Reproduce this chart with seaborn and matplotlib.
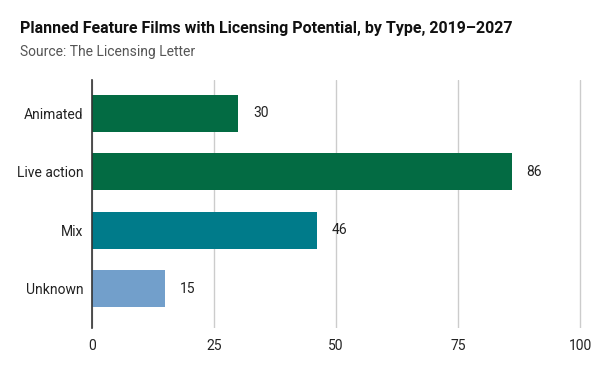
import pandas as pd
import seaborn as sns
import matplotlib.pyplot as plt

tipos = ['Animated', 'Live action', 'Mix', 'Unknown']
filmes = [30, 86, 46, 15]
cores = ['#036b43', '#036b43', '#007b8a', '#729fcb']
ticks_x = [0, 25, 50, 75, 100]

dados = pd.DataFrame({'Tipo': tipos, 'Filmes': filmes})

sns.set_style('white')
plt.rcParams['font.family'] = ['Roboto', 'DejaVu Sans']

fig = plt.figure(figsize=(6, 3.71), dpi=100)
ax = fig.add_axes([92 / 600, 1 - 328 / 371, 490 / 600, 248 / 371])

sns.barplot(data=dados, x='Filmes', y='Tipo', hue='Tipo', palette=cores,
            order=tipos, hue_order=tipos, width=0.63, legend=False,
            saturation=1, linewidth=0, ax=ax)

for i, v in enumerate(filmes):
    ax.text(v + 3.0, i, str(v), va='center', ha='left', fontsize=10, color='#222222')

ax.set_xlim(0, 100.4)
ax.set_ylim(3.67, -0.57)
ax.set_xticks(ticks_x)
ax.set_xticklabels([str(t) for t in ticks_x])
ax.xaxis.grid(True, color='#cccccc', linewidth=1)
ax.set_axisbelow(True)
for s in ['top', 'right', 'bottom']:
    ax.spines[s].set_visible(False)
ax.spines['left'].set_color('#333333')
ax.spines['left'].set_linewidth(1.2)
ax.tick_params(axis='both', length=0, labelsize=10, colors='#222222')
ax.tick_params(axis='y', pad=6)
ax.tick_params(axis='x', pad=8)
ax.set_xlabel('')
ax.set_ylabel('')

fig.text(20 / 600, 1 - 29 / 371, 'Planned Feature Films with Licensing Potential, by Type, 2019\u20132027',
         fontsize=11.5, fontweight='bold', va='center', ha='left', color='#111111')
fig.text(20 / 600, 1 - 52 / 371, 'Source: The Licensing Letter',
         fontsize=10, va='center', ha='left', color='#555555')

fig.savefig('out.png', dpi=100)
